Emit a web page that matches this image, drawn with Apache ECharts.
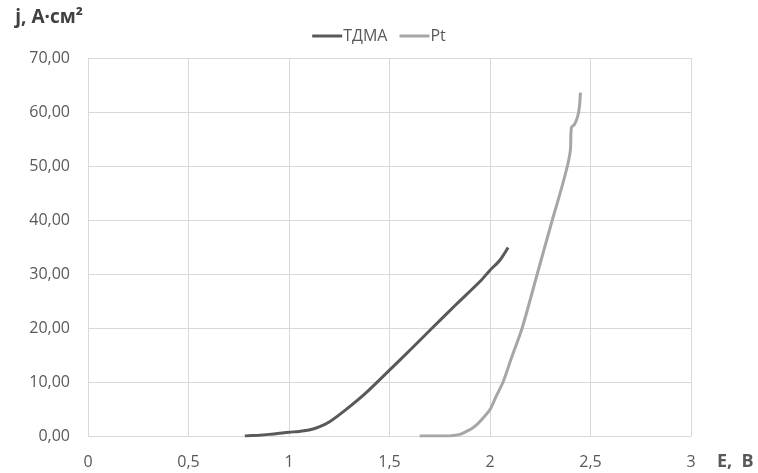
<!DOCTYPE html>
<html lang="ru">
<head>
    <meta charset="UTF-8">
    <title>j(E)</title>
    <script src="https://cdn.jsdelivr.net/npm/echarts@6/dist/echarts.min.js"></script>
    <style>
        html, body { margin: 0; padding: 0; background: #fff; }
        #main { width: 758px; height: 473px; }
    </style>
</head>
<body>
<div id="main"></div>
<script type="text/javascript">
    // E, В
    var tdmaE = [0.78, 0.85, 0.9, 0.95, 1.0, 1.05, 1.1, 1.15, 1.2, 1.28, 1.38, 1.5, 1.61, 1.71, 1.83, 1.95, 2.0, 2.05, 2.09];
    // j, А·см²
    var tdmaJ = [0.0, 0.15, 0.3, 0.5, 0.7, 0.85, 1.1, 1.7, 2.6, 4.8, 7.9, 12.2, 16.2, 19.9, 24.3, 28.6, 30.7, 32.6, 34.9];

    var ptE = [1.65, 1.78, 1.82, 1.85, 1.88, 1.91, 1.94, 1.97, 2.0, 2.03, 2.065, 2.11, 2.16, 2.235, 2.31, 2.35, 2.385, 2.40, 2.405, 2.42, 2.437, 2.445, 2.45];
    var ptJ = [0.0, 0.0, 0.1, 0.3, 0.8, 1.4, 2.3, 3.5, 4.9, 7.3, 10.0, 14.8, 20.0, 30.0, 40.0, 45.1, 50.0, 53.0, 57.1, 57.7, 59.3, 61.1, 63.6];

    var seriesNames = ['ТДМА', 'Pt'];
    var seriesColors = ['#595959', '#a6a6a6'];

    function pairs(xs, ys) {
        var out = [];
        for (var i = 0; i < xs.length; i++) out.push([xs[i], ys[i]]);
        return out;
    }

    function fmtComma(v, digits) {
        return v.toFixed(digits).replace('.', ',');
    }

    var myChart = echarts.init(document.getElementById('main'));
    var font = "'Open Sans', sans-serif";

    var option = {
        animation: false,
        backgroundColor: '#ffffff',
        textStyle: { fontFamily: font },
        legend: {
            top: 23,
            left: 'center',
            icon: 'rect',
            itemWidth: 30,
            itemHeight: 3,
            itemGap: 12,
            textStyle: { fontSize: 16, color: '#595959', fontFamily: font, padding: [0, 0, 0, -4] },
            data: seriesNames
        },
        grid: {
            left: 88,
            right: 67,
            top: 58,
            bottom: 37
        },
        xAxis: {
            type: 'value',
            min: 0,
            max: 3,
            interval: 0.5,
            name: 'E,  В',
            nameLocation: 'end',
            nameGap: 26,
            nameTextStyle: {
                fontSize: 18, fontWeight: 'bold', color: '#595959', fontFamily: font,
                verticalAlign: 'top', padding: [17, 0, 0, 0]
            },
            axisLine: { show: true, lineStyle: { color: '#d9d9d9', width: 1 } },
            axisTick: { show: false },
            splitLine: { show: true, lineStyle: { color: '#d9d9d9', width: 1 } },
            axisLabel: {
                margin: 18,
                fontSize: 16,
                color: '#595959',
                fontFamily: font,
                formatter: function (v) { return String(v).replace('.', ','); }
            }
        },
        yAxis: {
            type: 'value',
            min: 0,
            max: 70,
            interval: 10,
            name: 'j, А·см²',
            nameLocation: 'end',
            nameGap: 40,
            nameTextStyle: {
                fontSize: 19, fontWeight: 'bold', color: '#404040', fontFamily: font,
                align: 'right', verticalAlign: 'middle', padding: [0, 5, 0, 0]
            },
            axisLine: { show: false },
            axisTick: { show: false },
            splitLine: { show: true, lineStyle: { color: '#d9d9d9', width: 1 } },
            axisLabel: {
                margin: 18,
                fontSize: 16,
                color: '#595959',
                fontFamily: font,
                formatter: function (v) { return fmtComma(v, 2); }
            }
        },
        series: [
            {
                name: seriesNames[0],
                type: 'line',
                symbol: 'none',
                smooth: 0.3,
                lineStyle: { color: seriesColors[0], width: 3 },
                itemStyle: { color: seriesColors[0] },
                data: pairs(tdmaE, tdmaJ)
            },
            {
                name: seriesNames[1],
                type: 'line',
                symbol: 'none',
                smooth: 0.3,
                lineStyle: { color: seriesColors[1], width: 3 },
                itemStyle: { color: seriesColors[1] },
                data: pairs(ptE, ptJ)
            }
        ]
    };

    myChart.setOption(option);
</script>
</body>
</html>
